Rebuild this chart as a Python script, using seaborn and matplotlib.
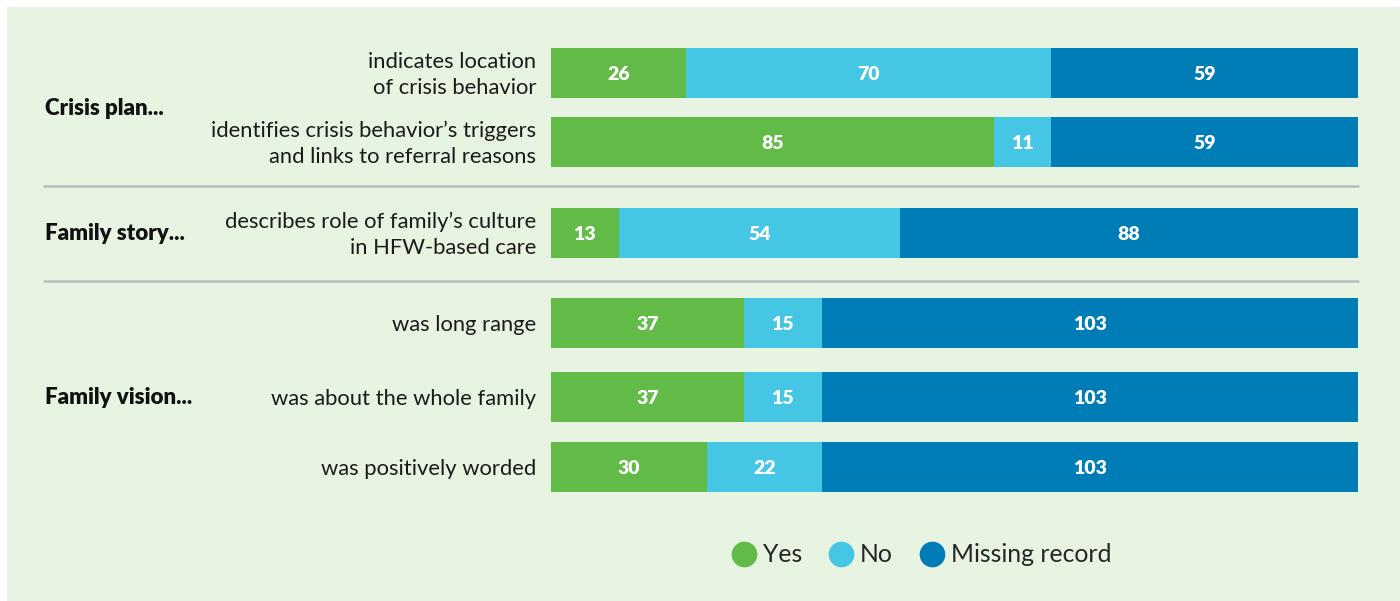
import matplotlib
matplotlib.use("Agg")
import matplotlib.pyplot as plt
from matplotlib.lines import Line2D
from matplotlib.patches import Rectangle
import seaborn as sns
import pandas as pd

# --- data -------------------------------------------------------------
items = [
    "indicates location\nof crisis behavior",
    "identifies crisis behavior\u2019s triggers\nand links to referral reasons",
    "describes role of family\u2019s culture\nin HFW-based care",
    "was long range",
    "was about the whole family",
    "was positively worded",
]
yes = [26, 85, 13, 37, 37, 30]
no = [70, 11, 54, 15, 15, 22]
missing = [59, 59, 88, 103, 103, 103]
groups = ["Crisis plan...", "Family story...", "Family vision..."]
legend_labels = ["Yes", "No", "Missing record"]

# --- layout (figure pixels, top-down) ---------------------------------
W, H = 1400, 601
row_y = [73, 142, 233, 323, 397, 467]
group_y = [107, 233, 397]
sep_y = [186, 281]
bar_left, bar_right = 551, 1358

GREEN, LIGHT, DARK = "#62bb47", "#44c6e4", "#007db7"
BG = "#e7f4e2"
FONT = "Lato"

sns.set_theme(style="white")
plt.rcParams["font.family"] = [FONT, "DejaVu Sans"]

fig = plt.figure(figsize=(W / 100, H / 100), dpi=100, facecolor="white")
fig.patches.append(Rectangle((7 / W, 0), 1, 1 - 7 / H, transform=fig.transFigure,
                             facecolor=BG, edgecolor="none", zorder=-5))

# axes covering the bar area horizontally, full height, y in pixel units
ax = fig.add_axes([bar_left / W, 0, (bar_right - bar_left) / W, 1])
ax.set_facecolor("none")
ax.set_zorder(2)

df = pd.DataFrame({"item": items, "pos": row_y, "yes": yes, "no": no, "missing": missing})
df["yes_no"] = df["yes"] + df["no"]
df["total"] = df["yes_no"] + df["missing"]

bar_w = 49.5 / 69  # fraction of the closest row spacing
for col, color in [("total", DARK), ("yes_no", LIGHT), ("yes", GREEN)]:
    sns.barplot(data=df, x=col, y="pos", orient="h", native_scale=True,
                color=color, width=bar_w, saturation=1, linewidth=0,
                errorbar=None, ax=ax)

total = float(df["total"].max())
ax.set_xlim(0, total)
ax.set_ylim(H, 0)
ax.axis("off")

# value labels in segment centers
for _, r in df.iterrows():
    starts = [0, r["yes"], r["yes_no"]]
    for s, v in zip(starts, [r["yes"], r["no"], r["missing"]]):
        ax.text(s + v / 2, r["pos"], f"{v}", ha="center", va="center_baseline",
                color="white", fontsize=14, fontweight="heavy", family=FONT)

# row labels and group labels, in figure pixel coordinates
def fx(px):
    return px / W

def fy(py):
    return 1 - py / H

for lab, y in zip(items, row_y):
    fig.text(fx(536), fy(y + 2), lab, ha="right", va="center", fontsize=15.8,
             color="#1b1b1b", linespacing=1.36, family=FONT)
for g, y in zip(groups, group_y):
    fig.text(fx(45), fy(y + 1), g, ha="left", va="center", fontsize=16,
             fontweight="heavy", color="#111111", family=FONT)

for y in sep_y:
    fig.add_artist(Line2D([fx(44), fx(bar_right)], [fy(y), fy(y)],
                          color="#b5bfc2", linewidth=1.8, transform=fig.transFigure))

handles = [Line2D([], [], marker="o", linestyle="none", markersize=18.5,
                  markerfacecolor=c, markeredgewidth=0) for c in (GREEN, LIGHT, DARK)]
fig.legend(handles, legend_labels, loc="center", ncol=3, frameon=False,
           bbox_to_anchor=(fx(921), fy(555)), handletextpad=0.2,
           columnspacing=1.05, handlelength=1.1,
           prop={"family": FONT, "size": 17.8})

fig.savefig("out.png", dpi=100, facecolor="white")
